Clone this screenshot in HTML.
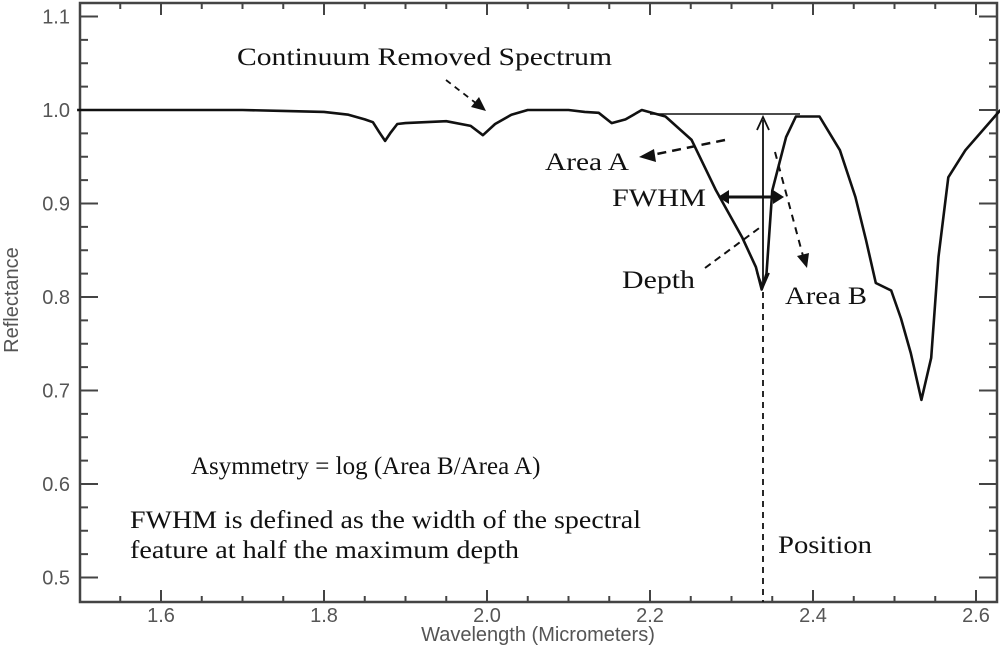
<!DOCTYPE html>
<html><head><meta charset="utf-8"><style>
body{margin:0;background:#fff}
svg{display:block}
.ax{font-family:"Liberation Sans",sans-serif;font-size:20px;fill:#555}
.an{font-family:"Liberation Serif",serif;font-size:25px;fill:#111}
</style></head><body>
<svg id="chart" width="1000" height="647" viewBox="0 0 1000 647">
<g id="axes"></g>
<path id="curve" fill="none" stroke="#111" stroke-width="2.6" stroke-linejoin="round"></path>
<g id="ann" stroke="#111" fill="none">
<line x1="650" y1="114" x2="800" y2="114" stroke-width="1.5"/>
<line x1="763" y1="120" x2="763" y2="285" stroke-width="1.8"/>
<path d="M757,130 L763,117 L769,130 M757,273 L763,287 L769,273" stroke-width="1.8"/>
<line x1="724" y1="197" x2="778" y2="197" stroke-width="3"/>
<path d="M718,197 L729,190 L729,204Z M784,197 L773,190 L773,204Z" fill="#111" stroke="none"/>
<line x1="705" y1="268" x2="762" y2="226" stroke-width="2" stroke-dasharray="7,5"/>
<line x1="725" y1="140" x2="652" y2="155" stroke-width="2.5" stroke-dasharray="9,6"/>
<path d="M639,157 L654,149 L656,162Z" fill="#111" stroke="none"/>
<line x1="775" y1="152" x2="803" y2="256" stroke-width="2" stroke-dasharray="7,6"/>
<path d="M807,268 L797,256 L809,253Z" fill="#111" stroke="none"/>
<line x1="763" y1="292" x2="763" y2="602" stroke-width="1.8" stroke-dasharray="6,5"/>
<line x1="446" y1="80" x2="477" y2="104" stroke-width="1.8" stroke-dasharray="6,5"/>
<path d="M486,111 L471,107 L479,97Z" fill="#111" stroke="none"/>
</g>
<text class="an" x="237" y="65" textLength="375" lengthAdjust="spacingAndGlyphs">Continuum Removed Spectrum</text>
<text class="an" x="545" y="170" textLength="84" lengthAdjust="spacingAndGlyphs">Area A</text>
<text class="an" x="612" y="206" textLength="94" lengthAdjust="spacingAndGlyphs">FWHM</text>
<text class="an" x="622" y="288" textLength="73" lengthAdjust="spacingAndGlyphs">Depth</text>
<text class="an" x="785" y="304" textLength="82" lengthAdjust="spacingAndGlyphs">Area B</text>
<text class="an" x="191" y="474">Asymmetry = log (Area B/Area A)</text>
<text class="an" x="130" y="528" textLength="511" lengthAdjust="spacingAndGlyphs">FWHM is defined as the width of the spectral</text>
<text class="an" x="130" y="558" textLength="389" lengthAdjust="spacingAndGlyphs">feature at half the maximum depth</text>
<text class="an" x="778" y="553" textLength="94" lengthAdjust="spacingAndGlyphs">Position</text>
</svg>
<script>
const wavelengths=[1.497,1.7,1.75,1.8,1.83,1.85,1.86,1.868,1.875,1.882,1.89,1.9,1.95,1.98,1.995,2.01,2.03,2.05,2.1,2.12,2.137,2.153,2.17,2.19,2.219,2.251,2.281,2.313,2.33,2.337,2.343,2.35,2.367,2.379,2.408,2.433,2.452,2.465,2.477,2.496,2.508,2.52,2.533,2.545,2.554,2.566,2.587,2.63];
const reflectance=[1.0,1.0,0.999,0.998,0.995,0.99,0.987,0.976,0.967,0.976,0.985,0.986,0.988,0.983,0.973,0.985,0.995,1.0,1.0,0.998,0.997,0.986,0.99,1.0,0.993,0.968,0.914,0.864,0.832,0.808,0.825,0.914,0.971,0.993,0.993,0.957,0.907,0.861,0.815,0.807,0.777,0.74,0.69,0.735,0.843,0.928,0.957,1.0];
const yTicks=[0.5,0.6,0.7,0.8,0.9,1.0,1.1];
const xTicks=[1.6,1.8,2.0,2.2,2.4,2.6];
const X=w=>161+(w-1.6)*815;
const Y=r=>110-(r-1.0)*935;
const L=80,R=997,T=3,B=602;
const ns="http://www.w3.org/2000/svg";
const ax=document.getElementById('axes');
function el(t,a,p){const e=document.createElementNS(ns,t);for(const k in a)e.setAttribute(k,a[k]);(p||ax).appendChild(e);return e;}
const fr=el('rect',{x:L,y:T,width:R-L,height:B-T,fill:'none',stroke:'#444','stroke-width':2.5});


for(let v=0.5;v<=1.1001;v+=0.025){const y=Y(v);const major=Math.abs(v*10-Math.round(v*10))<1e-6;const len=major?18:8;
el('line',{x1:L,y1:y,x2:L+len,y2:y,stroke:'#444','stroke-width':2});el('line',{x1:R,y1:y,x2:R-len,y2:y,stroke:'#444','stroke-width':2});}
for(let w=1.55;w<=2.6001;w+=0.05){const x=X(w);const major=Math.abs(w*5-Math.round(w*5))<1e-6;const len=major?12:6;
el('line',{x1:x,y1:B,x2:x,y2:B-len,stroke:'#444','stroke-width':2});el('line',{x1:x,y1:T,x2:x,y2:T+len,stroke:'#444','stroke-width':2});}
yTicks.forEach(v=>{const t=el('text',{x:L-10,y:Y(v)+7,'text-anchor':'end',class:'ax'});t.textContent=v.toFixed(1);

});
xTicks.forEach(v=>{const t=el('text',{x:X(v),y:622,'text-anchor':'middle',class:'ax'});t.textContent=v.toFixed(1);

});
const xt=el('text',{x:538,y:641,'text-anchor':'middle',class:'ax','font-size':'19'});xt.textContent='Wavelength (Micrometers)';


const yt=el('text',{x:18,y:300,'text-anchor':'middle',class:'ax',transform:'rotate(-90 18 300)','font-size':'17'});yt.textContent='Reflectance';


document.getElementById('curve').setAttribute('d',wavelengths.map((w,i)=>(i?'L':'M')+X(w).toFixed(1)+','+Y(reflectance[i]).toFixed(1)).join(' '));
</script>
</body></html>
